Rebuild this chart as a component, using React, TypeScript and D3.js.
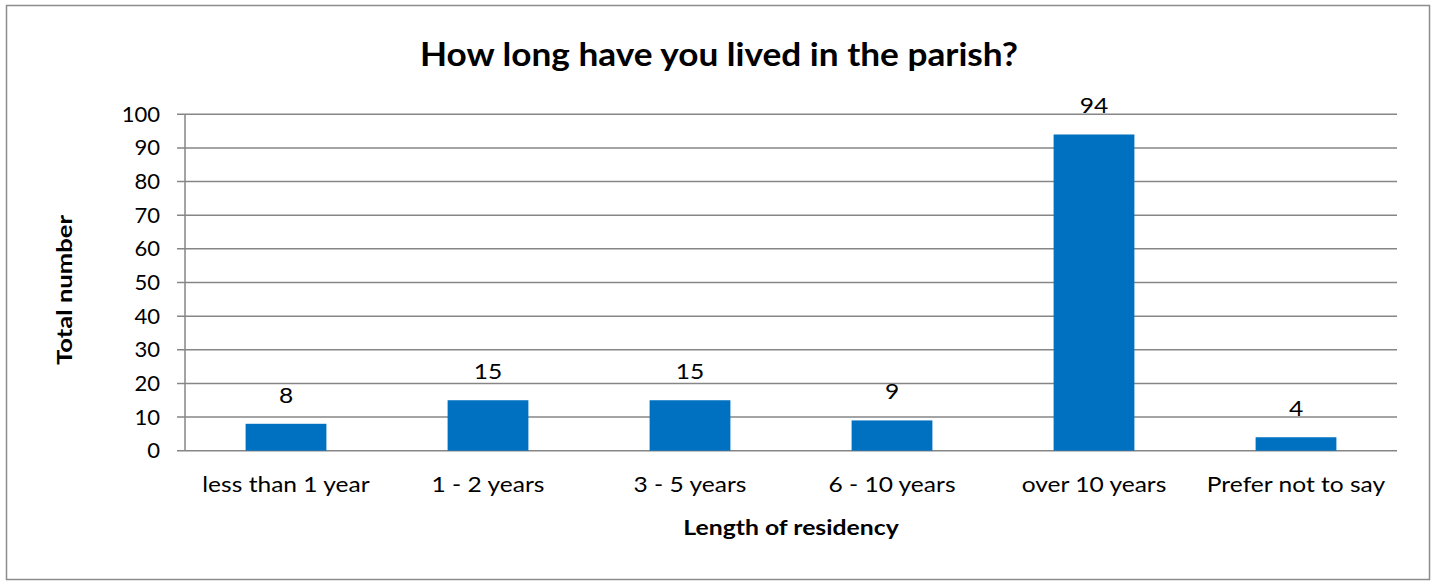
import React from "react";
import * as d3 from "d3";

const categories = ["less than 1 year", "1 - 2 years", "3 - 5 years", "6 - 10 years", "over 10 years", "Prefer not to say"];
const values = [8, 15, 15, 9, 94, 4];
const yTicks = [0, 10, 20, 30, 40, 50, 60, 70, 80, 90, 100];
const title = "How long have you lived in the parish?";
const xTitle = "Length of residency";
const yTitle = "Total number";

export default function App() {
  const W = 1437, H = 581;
  const left = 185, right = 1397, top = 114.3, bottom = 450.7;
  const x = d3.scaleBand<string>().domain(categories).range([left, right]).paddingInner(0.6).paddingOuter(0.3);
  const y = d3.scaleLinear().domain([0, 100]).range([bottom, top]);
  const font = "Lato, 'Open Sans', sans-serif";
  const sx = 1.17;
  return (
    <svg width={W} height={H} style={{ position: "absolute", left: 0, top: 0 }}>
      <rect x={0} y={0} width={W} height={H} fill="#fff" />
      <rect x={6.5} y={5.5} width={1423} height={574} fill="#fff" stroke="#8c8c8c" strokeWidth={1.5} />
      <text transform={`translate(719,66) scale(1.1,1)`} textAnchor="middle" fontFamily={font} fontWeight={700} fontSize={32} fill="#000">{title}</text>
      {yTicks.map(t => (
        <g key={t}>
          <line x1={left - 8} x2={right} y1={y(t)} y2={y(t)} stroke="#868686" strokeWidth={1.5} />
          <text transform={`translate(${left - 25},${y(t) + 7.5}) scale(1.05,1)`} textAnchor="end" fontFamily={font} fontSize={21} fill="#000">{t}</text>
        </g>
      ))}
      <line x1={left} x2={left} y1={top} y2={bottom} stroke="#868686" strokeWidth={1.5} />
      {categories.map((c, i) => {
        const cx = (x(c) as number) + x.bandwidth() / 2;
        return (
          <g key={c}>
            <rect x={x(c)} y={y(values[i])} width={x.bandwidth()} height={bottom - y(values[i])} fill="#0070C0" />
            <text transform={`translate(${cx},${y(values[i]) - 21}) scale(${sx},1)`} textAnchor="middle" fontFamily={font} fontSize={21} fill="#000">{values[i]}</text>
            <text transform={`translate(${cx},492) scale(${sx},1)`} textAnchor="middle" fontFamily={font} fontSize={21} fill="#000">{c}</text>
          </g>
        );
      })}
      <text transform={`translate(${(left + right) / 2},535) scale(1.18,1)`} textAnchor="middle" fontFamily={font} fontWeight={700} fontSize={21} fill="#000">{xTitle}</text>
      <text transform={`translate(72,290) rotate(-90) scale(1.22,1)`} textAnchor="middle" fontFamily={font} fontWeight={700} fontSize={21} fill="#000">{yTitle}</text>
    </svg>
  );
}
